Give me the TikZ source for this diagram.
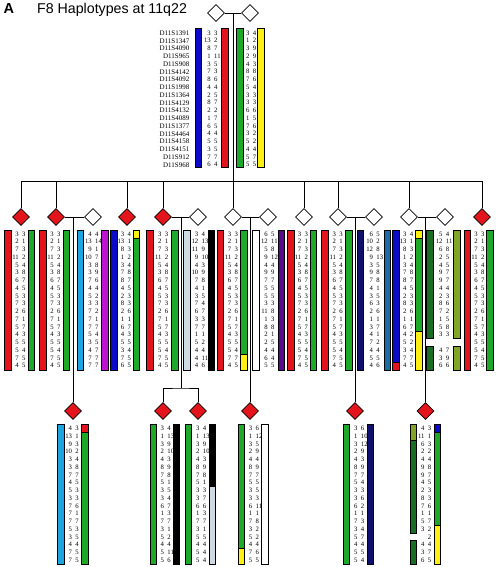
\documentclass[tikz,border=0pt]{standalone}
\usepackage{fontspec}
\setmainfont{Liberation Serif}
\setsansfont{Liberation Sans}
\usepackage{tikz}
\usetikzlibrary{shapes.geometric}
\definecolor{hapred}{RGB}{228, 20, 28}
\definecolor{hapgreen}{RGB}{30, 170, 40}
\definecolor{hapblue}{RGB}{10, 10, 200}
\definecolor{hapnavy}{RGB}{15, 15, 110}
\definecolor{hapyellow}{RGB}{255, 240, 20}
\definecolor{hapcyan}{RGB}{30, 165, 225}
\definecolor{hapmagenta}{RGB}{190, 20, 210}
\definecolor{hapgrey}{RGB}{205, 218, 228}
\definecolor{happurple}{RGB}{90, 10, 140}
\definecolor{hapteal}{RGB}{25, 110, 165}
\definecolor{hapdkgreen}{RGB}{25, 110, 35}
\definecolor{hapolive}{RGB}{130, 165, 40}
\newcommand{\hapbar}[4]{\filldraw[fill=#4, line width=0.7pt] (#1-3.3,#2) rectangle (#1+3.3,#3);}
\newcommand{\alleles}[4]{%
    \edef\alist{#4}%
    \foreach \a/\b [count=\i] in \alist {
        \node[allele, anchor=east] (#1-l\i) at (#2-0.8, #3+\i*7.75-7.75) {\a};
        \node[allele, anchor=west] (#1-r\i) at (#2+2.2, #3+\i*7.75-7.75) {\b};
    }}
\def\redgreen{3/3,2/1,7/3,11/2,5/4,3/8,6/7,4/5,5/3,7/3,2/6,7/1,5/7,4/3,5/5,5/4,7/5,4/5}
\tikzset{
    pedline/.style={line width=0.9pt},
    unaffected/.style={diamond, draw, line width=0.8pt, fill=white, minimum width=17pt, minimum height=17pt, inner sep=0pt},
    affected/.style={unaffected, fill=hapred},
    allele/.style={font=\fontsize{6.7}{6.7}\selectfont, inner sep=0pt},
    marker/.style={font=\fontsize{7}{7}\selectfont, inner sep=0pt, anchor=east},
}

\begin{document}
\begin{tikzpicture}[x=1pt, y=-1pt]
    \useasboundingbox (0,0) rectangle (496,567);
    \node[font=\sffamily\bfseries\fontsize{14.5}{14.5}\selectfont, anchor=base west, inner sep=0pt] (panel) at (3.5,14) {A};
    \node[font=\sffamily\fontsize{14.2}{14.2}\selectfont, anchor=base west, inner sep=0pt] (title) at (37,14) {F8 Haplotypes at 11q22};

    % generation I
    \node[unaffected] (i1) at (216,13) {};
    \node[unaffected] (i2) at (250,13) {};
    \foreach \m [count=\i] in {D11S1391,D11S1347,D11S4090,D11S965,D11S908,D11S4142,D11S4092,D11S1998,D11S1364,D11S4129,D11S4132,D11S4089,D11S1377,D11S4464,D11S4158,D11S4151,D11S912,D11S968}
        \node[marker] (mk\i) at (189.5, 33+\i*7.75-7.75) {\m};
    \hapbar{198.5}{28}{167}{hapblue}
    \hapbar{225}{28}{167}{hapred}
    \hapbar{240}{28}{167}{hapgreen}
    \hapbar{261}{28}{167}{hapyellow}
    \alleles{i1}{211.75}{33}{3/3,13/2,8/7,1/11,3/5,7/3,8/6,4/4,2/5,8/7,2/2,1/7,6/5,4/4,5/5,3/5,7/7,6/4}
    \alleles{i2}{250.5}{33}{3/4,1/2,3/9,2/9,4/3,8/8,7/6,5/4,3/3,3/3,6/6,1/5,7/6,3/2,5/2,4/4,5/7,5/5}

    % generation II
    \node[affected] (ii1) at (21,217) {};
    \node[affected] (ii2) at (56,217) {};
    \node[unaffected] (ii3) at (93,217) {};
    \node[affected] (ii4) at (127,217) {};
    \node[affected] (ii5) at (163,217) {};
    \node[unaffected] (ii6) at (198,217) {};
    \node[unaffected] (ii7) at (233,217) {};
    \node[unaffected] (ii8) at (268,217) {};
    \node[unaffected] (ii9) at (304,217) {};
    \node[unaffected] (ii10) at (338,217) {};
    \node[unaffected] (ii11) at (374,217) {};
    \node[unaffected] (ii12) at (409,217) {};
    \node[unaffected] (ii13) at (445,217) {};
    \node[affected] (ii14) at (482,217) {};

    \foreach \x in {8,43,150,220.5,291,325,467.5}{
        \hapbar{\x}{230}{370}{hapred}
    }
    \foreach \x in {31.5,66.5,175,313.5,349,490}{
        \hapbar{\x}{230}{370}{hapgreen}
    }
    \hapbar{80.5}{230}{370}{hapcyan}
    \hapbar{105}{230}{370}{hapmagenta}
    \hapbar{114}{230}{370}{hapblue}
    \hapbar{136.5}{230}{237.9}{hapyellow}
    \hapbar{136.5}{237.9}{370}{hapgreen}
    \hapbar{187}{230}{370}{hapgrey}
    \hapbar{211.5}{230}{370}{black}
    \hapbar{244}{230}{354.1}{hapgreen}
    \hapbar{244}{354.1}{370}{hapyellow}
    \hapbar{256}{230}{370}{white}
    \hapbar{281.5}{230}{370}{happurple}
    \hapbar{360.5}{230}{370}{hapnavy}
    \hapbar{387.5}{230}{370}{hapteal}
    \hapbar{396}{230}{361.9}{hapblue}
    \hapbar{396}{361.9}{370}{hapred}
    \hapbar{419}{230}{237.9}{hapyellow}
    \hapbar{419}{237.9}{330.9}{hapgreen}
    \hapbar{419}{330.9}{370}{hapyellow}
    \hapbar{430}{230}{338.5}{hapdkgreen}
    \hapbar{430}{346.5}{370}{hapdkgreen}
    \hapbar{457}{230}{338.5}{hapolive}
    \hapbar{457}{346.5}{370}{hapolive}

    \alleles{ii1}{19.75}{234}{\redgreen}
    \alleles{ii2}{54.75}{234}{\redgreen}
    \alleles{ii3}{92.75}{234}{4/4,13/14,9/1,10/7,3/8,3/9,7/6,4/4,5/2,3/3,7/2,7/1,7/7,5/4,3/5,4/7,7/7,7/7}
    \alleles{ii4}{125.25}{234}{3/4,13/1,8/3,1/2,3/4,7/8,8/7,4/5,2/3,8/3,2/6,1/1,6/7,4/3,5/5,3/4,7/5,6/5}
    \alleles{ii5}{162.5}{234}{\redgreen}
    \alleles{ii6}{199.25}{234}{3/4,12/13,11/9,9/10,4/3,10/9,7/8,4/1,3/5,7/4,6/7,3/3,7/7,1/1,5/2,4/4,4/11,4/6}
    \alleles{ii7}{232.25}{234}{3/3,2/1,7/3,11/2,5/4,3/8,6/7,4/5,5/3,7/3,2/6,7/1,5/7,4/3,5/5,5/4,7/7,4/5}
    \alleles{ii8}{268.75}{234}{6/5,12/11,5/8,9/12,4/4,9/9,7/7,5/5,5/5,3/3,11/8,1/3,8/8,2/1,2/5,4/4,6/4,5/5}
    \alleles{ii9}{302.25}{234}{\redgreen}
    \alleles{ii10}{337}{234}{\redgreen}
    \alleles{ii11}{374}{234}{6/5,10/2,12/8,9/13,3/5,9/8,7/8,4/1,3/5,6/3,2/6,1/1,3/7,4/1,7/2,4/4,5/5,4/6}
    \alleles{ii12}{407.5}{234}{3/4,13/1,8/3,1/2,3/4,7/8,8/7,4/5,2/3,8/3,2/6,1/1,6/7,4/2,5/2,3/4,7/7,4/5}
    \alleles{ii13}{443.5}{234}{5/4,12/11,6/8,2/5,4/5,9/7,9/7,4/4,2/3,8/6,7/2,1/5,5/8,3/3,{}/{},4/7,3/9,6/6}
    \alleles{ii14}{478.75}{234}{\redgreen}

    % generation III
    \node[affected] (iii1) at (73,411) {};
    \node[affected] (iii2) at (163,411) {};
    \node[affected] (iii3) at (198,411) {};
    \node[affected] (iii4) at (250,411) {};
    \node[affected] (iii5) at (355,411) {};
    \node[affected] (iii6) at (425.5,411) {};

    \hapbar{61}{424}{564}{hapcyan}
    \hapbar{85}{424}{432.4}{hapred}
    \hapbar{85}{432.4}{564}{hapgreen}
    \hapbar{153.5}{424}{564}{hapgreen}
    \hapbar{176.5}{424}{564}{black}
    \hapbar{188.5}{424}{564}{hapgreen}
    \hapbar{212.5}{424}{486.6}{black}
    \hapbar{212.5}{486.6}{564}{hapgrey}
    \hapbar{241.5}{424}{548.6}{hapgreen}
    \hapbar{241.5}{548.6}{564}{hapyellow}
    \hapbar{265}{424}{564}{white}
    \hapbar{346.5}{424}{564}{hapgreen}
    \hapbar{370.5}{424}{564}{hapnavy}
    \hapbar{413.5}{424}{440.1}{hapolive}
    \hapbar{413.5}{440.1}{533}{hapdkgreen}
    \hapbar{413.5}{540.5}{564}{hapdkgreen}
    \hapbar{437.5}{424}{432.4}{hapblue}
    \hapbar{437.5}{432.4}{525.4}{hapgreen}
    \hapbar{437.5}{525.4}{564}{hapyellow}

    \alleles{iii1}{73}{428.5}{4/3,13/1,9/3,10/2,3/4,3/8,7/7,4/5,5/3,3/3,7/6,7/1,7/7,5/3,3/5,4/4,7/5,7/5}
    \alleles{iii2}{165}{428.5}{3/4,1/13,3/9,2/10,4/3,8/9,7/8,5/1,3/5,3/4,6/7,1/3,7/7,3/1,5/2,4/4,5/11,5/6}
    \alleles{iii3}{200.5}{428.5}{3/4,1/13,3/9,2/10,4/3,8/9,7/8,5/1,3/3,3/7,6/6,1/3,7/7,3/1,5/5,4/4,5/4,5/4}
    \alleles{iii4}{253.25}{428.5}{3/6,1/12,3/5,2/9,4/4,8/9,7/7,5/5,3/5,3/3,6/11,1/1,7/8,3/2,5/2,4/4,7/6,5/5}
    \alleles{iii5}{358.5}{428.5}{3/6,1/10,3/12,2/9,4/3,8/9,7/7,5/4,3/3,3/6,6/2,1/1,7/3,3/4,5/7,4/4,5/5,5/4}
    \alleles{iii6}{425.5}{428.5}{4/3,11/1,6/3,2/2,4/4,9/8,9/7,4/5,2/3,8/3,7/6,1/1,5/7,3/2,{}/2,4/4,3/7,6/5}

    % pedigree lines
    \coordinate (top) at (233,13);
    \coordinate (sibl) at (21,181);
    \coordinate (sibr) at (482,181);
    \coordinate (sib56) at (181,388);
    \draw[pedline] (i1.east) -- (i2.west);
    \draw[pedline] (top) -- (ii7.north);
    \draw[pedline] (sibl) -- (sibr);
    \foreach \n in {ii1,ii2,ii4,ii5,ii9,ii10,ii12,ii14}
        \draw[pedline] (\n.north) -- (\n.north |- sibl);
    \draw[pedline] (ii2.east) -- (ii3.west);
    \draw[pedline] (ii5.east) -- (ii6.west);
    \draw[pedline] (ii7.east) -- (ii8.west);
    \draw[pedline] (ii10.east) -- (ii11.west);
    \draw[pedline] (ii12.east) -- (ii13.west);
    \draw[pedline] (iii1.north) -- (iii1.north |- ii2);
    \draw[pedline] (sib56) -- (sib56 |- ii5);
    \draw[pedline] (iii2.north) |- (sib56) -| (iii3.north);
    \draw[pedline] (iii4.north) -- (iii4.north |- ii7);
    \draw[pedline] (iii5.north) -- (iii5.north |- ii10);
    \draw[pedline] (iii6.north) -- (iii6.north |- ii12);
\end{tikzpicture}
\end{document}
